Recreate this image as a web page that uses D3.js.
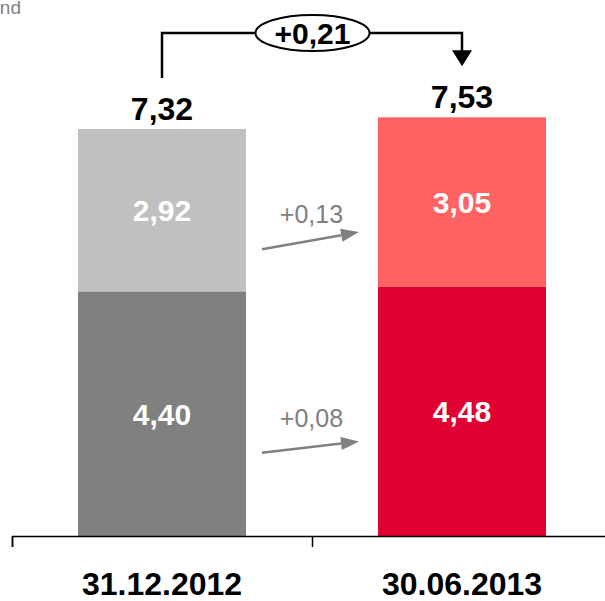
<!DOCTYPE html>
<html>
<head>
<meta charset="utf-8">
<script src="https://cdn.jsdelivr.net/npm/d3@7"></script>
<style>
html,body{margin:0;padding:0;background:#fff;}
svg{display:block;font-family:"Liberation Sans",Arial,sans-serif;}
</style>
</head>
<body>
<svg id="chart" width="605" height="601"></svg>
<script>
// ---- data ----
const categories = ["31.12.2012", "30.06.2013"];
const segmentNames = ["lower", "upper"];
const lowerValues = [4.40, 4.48];
const upperValues = [2.92, 3.05];
const totals = [7.32, 7.53];
const segmentDeltas = [0.08, 0.13];   // lower, upper
const totalDelta = 0.21;
const colorsFirst = ["#808080", "#C0C0C0"];
const colorsSecond = ["#E10032", "#FF6262"];

const locale = d3.formatLocale({decimal: ",", thousands: ".", grouping: [3], currency: ["", "€"]});
const fmt = locale.format(".2f");
const fmtSigned = locale.format("+.2f");

const svg = d3.select("#chart");
const x = d3.scaleBand().domain(categories).range([12, 612]).padding(0);
const y = d3.scaleLinear().domain([0, 9]).range([536, 536 - 9 * 55.6]);
const barW = x.bandwidth() * 0.56;
const cx = c => x(c) + x.bandwidth() / 2;

// stacked data
const rows = categories.map((c, i) => ({cat: c, lower: lowerValues[i], upper: upperValues[i]}));
const stack = d3.stack().keys(segmentNames)(rows);

const g = svg.append("g");
stack.forEach((layer, li) => {
  g.selectAll(null).data(layer).enter().append("rect")
    .attr("x", d => cx(d.data.cat) - barW / 2)
    .attr("width", barW)
    .attr("y", d => y(d[1]))
    .attr("height", d => y(d[0]) - y(d[1]))
    .attr("fill", (d, i) => (i === 0 ? colorsFirst : colorsSecond)[li]);
  g.selectAll(null).data(layer).enter().append("text")
    .attr("x", d => cx(d.data.cat))
    .attr("y", d => (y(d[0]) + y(d[1])) / 2 + 11)
    .attr("text-anchor", "middle")
    .attr("font-size", 30).attr("font-weight", "bold").attr("fill", "#fff")
    .text(d => fmt(d[1] - d[0]));
});

// totals
g.selectAll(null).data(categories).enter().append("text")
  .attr("x", d => cx(d))
  .attr("y", (d, i) => y(totals[i]) - 9.5)
  .attr("text-anchor", "middle")
  .attr("font-size", 32).attr("font-weight", "bold").attr("fill", "#000")
  .text((d, i) => fmt(totals[i]));

// axis
const axis = d3.axisBottom(x).tickSize(0).tickSizeOuter(11);
const ax = svg.append("g").attr("transform", "translate(0,536)").call(axis);
ax.select(".domain").attr("stroke", "#000").attr("stroke-width", 1.5);
ax.selectAll(".tick text").attr("y", 59).attr("dy", 0)
  .attr("font-size", 32).attr("font-weight", "bold").attr("fill", "#000")
  .attr("font-family", "Liberation Sans, Arial, sans-serif");
ax.selectAll(null).data(categories).enter().append("line")
  .attr("x1", d => x(d) + 0.5).attr("x2", d => x(d) + 0.5)
  .attr("y1", 0).attr("y2", 11).attr("stroke", "#000").attr("stroke-width", 1.5);

// top bracket showing total delta
const x1 = cx(categories[0]), x2 = cx(categories[1]);
const yLine = 33;
const ex = (x1 + x2) / 2 + 0.5, rx = 57, ry = 18;
svg.append("path")
  .attr("d", `M${x1},${y(totals[0]) - 51}V${yLine}H${ex - rx}M${ex + rx},${yLine}H${x2}V${y(totals[1]) - 66}`)
  .attr("fill", "none").attr("stroke", "#000").attr("stroke-width", 2.5);
svg.append("path")
  .attr("d", `M${x2 - 10},${y(totals[1]) - 67}L${x2 + 10},${y(totals[1]) - 67}L${x2},${y(totals[1]) - 51}Z`)
  .attr("fill", "#000");
svg.append("ellipse").attr("cx", ex).attr("cy", yLine).attr("rx", rx).attr("ry", ry)
  .attr("fill", "#fff").attr("stroke", "#000").attr("stroke-width", 2);
svg.append("text").attr("x", ex).attr("y", yLine + 11)
  .attr("text-anchor", "middle").attr("font-size", 30).attr("font-weight", "bold")
  .text(fmtSigned(totalDelta));

// segment delta arrows
const ax1 = cx(categories[0]) + barW / 2 + 16;
const ax2 = cx(categories[1]) - barW / 2 - 19;
const segMid = (i, li) => li === 0 ? (y(0) + y(lowerValues[i])) / 2 : (y(lowerValues[i]) + y(totals[i])) / 2;
segmentDeltas.forEach((dv, li) => {
  const ya = segMid(0, li) + 39, yb = segMid(1, li) + 30;
  const ang = Math.atan2(yb - ya, ax2 - ax1);
  const hl = 18, hw = 6.5;
  const bx = ax2 - hl * Math.cos(ang), by = yb - hl * Math.sin(ang);
  svg.append("line").attr("x1", ax1).attr("y1", ya).attr("x2", bx).attr("y2", by)
    .attr("stroke", "#808080").attr("stroke-width", 2.5);
  svg.append("path")
    .attr("d", `M${ax2},${yb}L${bx + hw * Math.sin(ang)},${by - hw * Math.cos(ang)}L${bx - hw * Math.sin(ang)},${by + hw * Math.cos(ang)}Z`)
    .attr("fill", "#808080");
  svg.append("text").attr("x", (ax1 + ax2) / 2 + 1).attr("y", ya - 26)
    .attr("text-anchor", "middle").attr("font-size", 25).attr("fill", "#808080")
    .text(fmtSigned(dv));
});

// cut-off header text (partially visible in the reference)
svg.append("text").attr("x", 21).attr("y", 14).attr("text-anchor", "end")
  .attr("font-size", 19).attr("fill", "#7f7f7f").text("nd");
</script>
</body>
</html>
